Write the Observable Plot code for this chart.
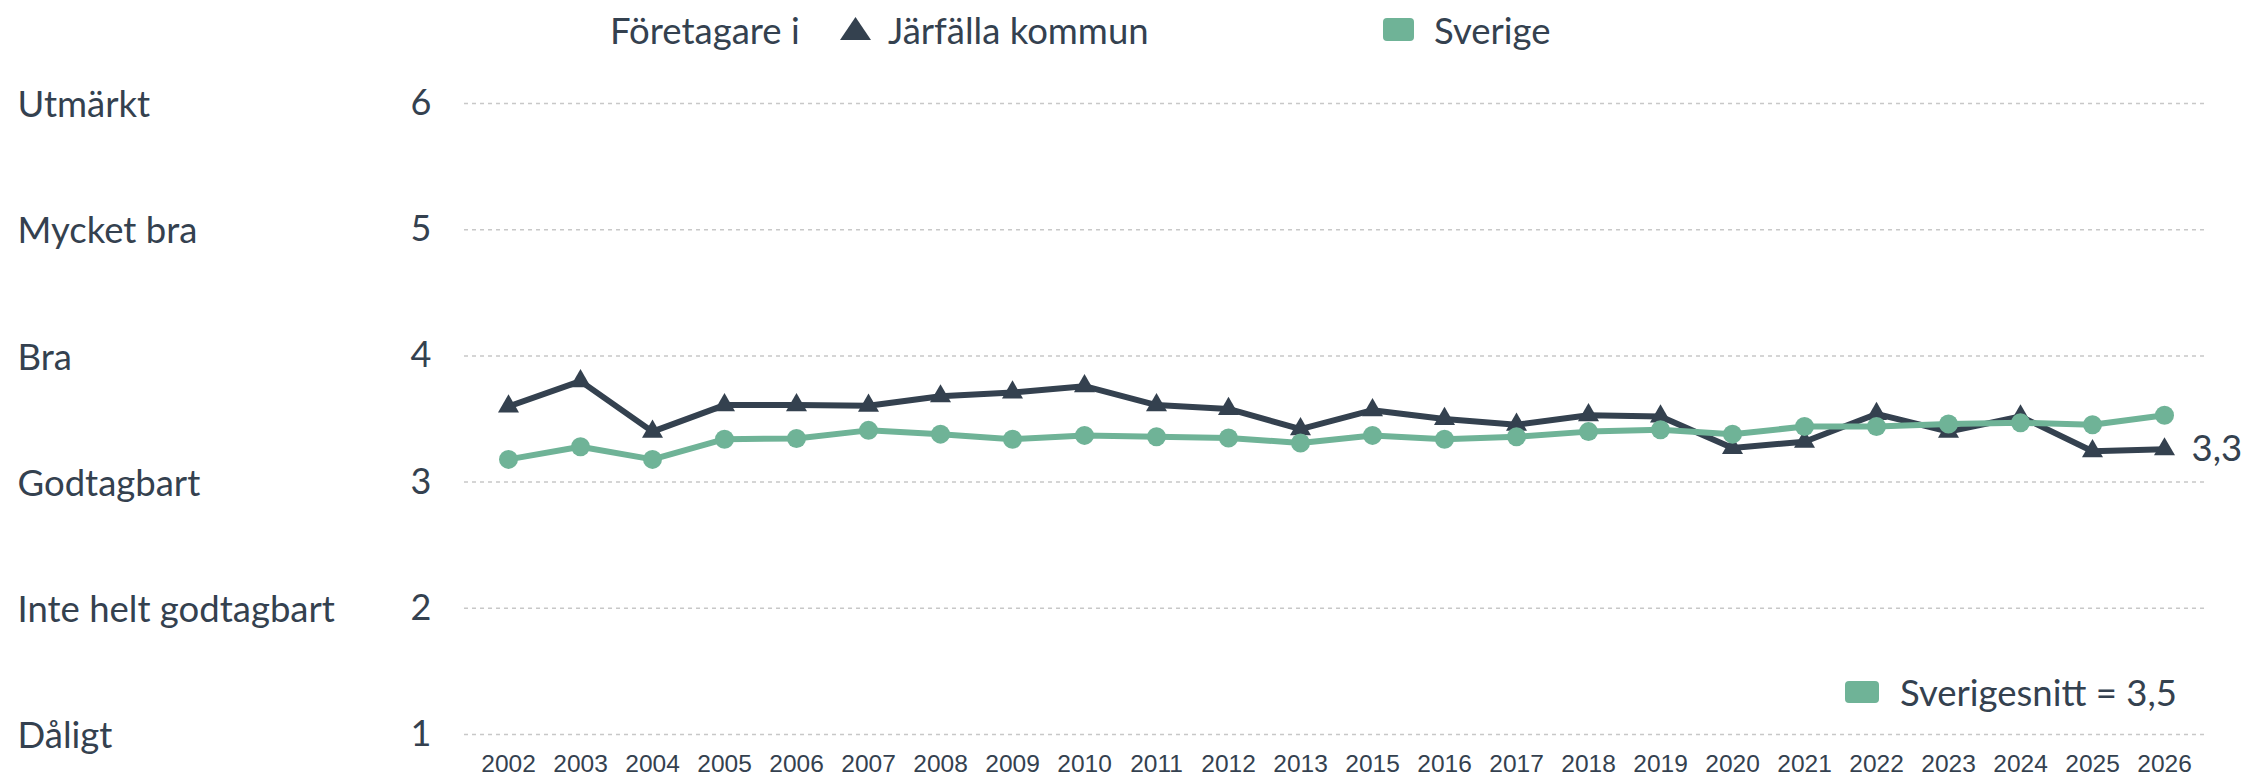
<!DOCTYPE html>
<html>
<head>
<meta charset="utf-8">
<script src="https://cdn.jsdelivr.net/npm/d3@7"></script>
<script src="https://cdn.jsdelivr.net/npm/@observablehq/plot@0.6"></script>
<style>
  html, body { margin: 0; padding: 0; background: #fff; }
  body { width: 2255px; height: 779px; position: relative; overflow: hidden; font-family: Lato, "Open Sans", sans-serif; color: #34414f; }
  .leg { position: absolute; left: 0; top: 0; width: 2255px; height: 58px; }
  .leg span, .leg svg, .leg div { position: absolute; }
  .txt { font-size: 36.5px; line-height: 1; white-space: nowrap; }
  #chart { position: absolute; left: 0; top: 58px; }
  .bot { position: absolute; }
</style>
</head>
<body>
<div class="leg" id="legend"></div>
<div id="chart"></div>
<div class="bot" id="botlegend"></div>
<script>
// ---- data ----
const years = ["2002","2003","2004","2005","2006","2007","2008","2009","2010","2011","2012","2013",
               "2015","2016","2017","2018","2019","2020","2021","2022","2023","2024","2025","2026"];
const jarfalla = [3.60,3.80,3.40,3.61,3.61,3.605,3.68,3.71,3.76,3.61,3.58,3.42,
                  3.57,3.50,3.455,3.53,3.52,3.27,3.32,3.54,3.40,3.52,3.245,3.26];
const sverige  = [3.18,3.28,3.18,3.34,3.345,3.41,3.38,3.34,3.37,3.36,3.35,3.31,
                  3.37,3.34,3.36,3.40,3.415,3.38,3.44,3.44,3.46,3.47,3.455,3.53];
const yTicks = [1,2,3,4,5,6];
const yLabels = ["Dåligt","Inte helt godtagbart","Godtagbart","Bra","Mycket bra","Utmärkt"];
const legendPrefix = "Företagare i";
const seriesNames = ["Järfälla kommun","Sverige"];
const swedenAverage = "Sverigesnitt = 3,5";

const dark = "#34414f";
const green = "#6fb397";

const dataJ = years.map((y,i) => ({year: y, value: jarfalla[i]}));
const dataS = years.map((y,i) => ({year: y, value: sverige[i]}));
const labelData = yTicks.map((v,i) => ({v, label: yLabels[i]}));
const fmt = v => d3.format(".1f")(v).replace(".", ",");

const chart = Plot.plot({
  width: 2255,
  height: 721,
  marginLeft: 464,
  marginRight: 47,
  marginTop: 45,
  marginBottom: 45,
  style: {fontFamily: "Lato, sans-serif", color: dark, background: "#fff", overflow: "visible"},
  x: {type: "point", domain: years, padding: 0.5, label: null},
  y: {domain: [1, 6], label: null},
  marks: [
    Plot.ruleY(yTicks, {stroke: "#c8c8c8", strokeWidth: 1.5, strokeDasharray: "4,4"}),
    Plot.axisY({ticks: yTicks, tickSize: 0, tickPadding: 33, fontSize: 36, tickFormat: d => d, fill: dark, fontFamily: "Lato, sans-serif", label: null}),
    Plot.text(labelData, {y: "v", text: "label", frameAnchor: "left", textAnchor: "start", dx: -447, dy: 2, fontSize: 36.5, fill: dark, fontFamily: "Lato, sans-serif"}),
    Plot.axisX({tickSize: 0, tickPadding: 20, fontSize: 24.5, fill: dark, fontFamily: "'Liberation Sans', Arial, sans-serif", label: null}),
    Plot.line(dataJ, {x: "year", y: "value", stroke: dark, strokeWidth: 6, strokeLinejoin: "miter"}),
    Plot.dot(dataJ, {x: "year", y: "value", symbol: "triangle", r: 7.8, fill: dark, stroke: "none"}),
    Plot.line(dataS, {x: "year", y: "value", stroke: green, strokeWidth: 6}),
    Plot.dot(dataS, {x: "year", y: "value", symbol: "circle", r: 9.5, fill: green, stroke: "none"}),
    Plot.text(dataJ, Plot.selectLast({x: "year", y: "value", text: d => fmt(d.value), dx: 27, textAnchor: "start", fontSize: 36.5, fill: dark, fontFamily: "Lato, sans-serif"}))
  ]
});
document.getElementById("chart").appendChild(chart);

// ---- top legend ----
const leg = document.getElementById("legend");
leg.innerHTML = `
  <span class="txt" style="left:610px; top:12px;">${legendPrefix}</span>
  <svg style="left:840px; top:17px;" width="31" height="24"><polygon points="15.5,0 31,23 0,23" fill="${dark}"/></svg>
  <span class="txt" style="left:888px; top:12px;">${seriesNames[0]}</span>
  <div style="left:1383px; top:18px; width:31px; height:23px; border-radius:4px; background:${green};"></div>
  <span class="txt" style="left:1434px; top:12px;">${seriesNames[1]}</span>
`;
// ---- bottom-right legend ----
const bot = document.getElementById("botlegend");
bot.style.left = "0px"; bot.style.top = "0px";
bot.innerHTML = `
  <div style="position:absolute; left:1845px; top:681px; width:34px; height:22px; border-radius:4px; background:${green};"></div>
  <span class="txt" style="position:absolute; left:1900px; top:674px;">${swedenAverage}</span>
`;
</script>
</body>
</html>
